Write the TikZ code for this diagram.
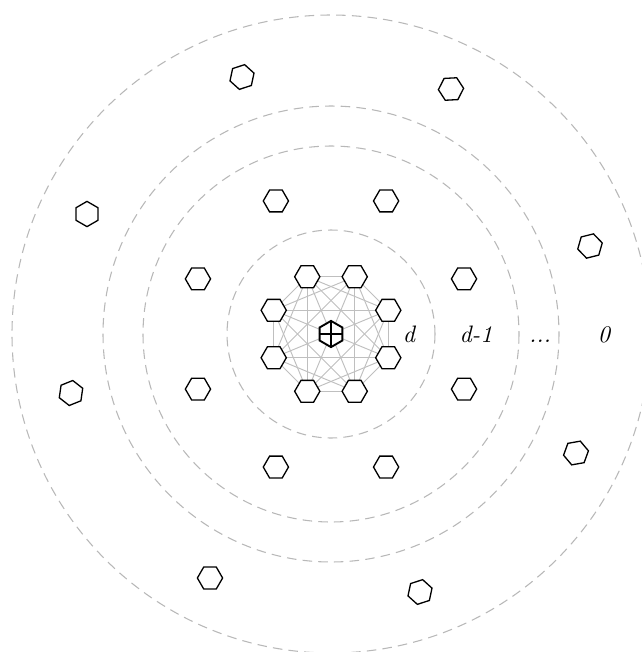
\documentclass[tikz,border=0pt]{standalone}
\usetikzlibrary{shapes.geometric}
\begin{document}
\begin{tikzpicture}[x=0.42pt,y=-0.42pt,
  hexa/.style={regular polygon, regular polygon sides=6, draw=black, fill=white,
    line width=0.55pt, inner sep=0pt, minimum size=10.6pt},
  ringline/.style={draw=black!28, dash pattern=on 4pt off 2.6pt, line width=0.45pt},
  link/.style={draw=black!25, line width=0.4pt},
  lab/.style={anchor=base, font=\itshape, inner sep=0pt}]
\useasboundingbox (0,0) rectangle (642,652);
\clip (0,0) rectangle (642,652);
\coordinate (c) at (331,334);
% dashed level circles
\draw[ringline] (c) circle[radius=104];
\draw[ringline] (c) circle[radius=188];
\draw[ringline] (c) circle[radius=228];
\draw[ringline] (c) circle[radius=319];
% inner clique positions
\foreach \i in {0,...,7}{
  \coordinate (p\i) at ([shift={(22.5+45*\i:62)}]c);
}
\foreach \i in {0,...,7}{
  \foreach \j in {0,...,7}{
    \ifnum\i<\j \draw[link] (p\i) -- (p\j);\fi
  }
}
\foreach \i in {0,...,7}{
  \node[hexa] (a\i) at (p\i) {};
}
% centre node
\node[hexa, regular polygon rotate=30, line width=0.8pt, minimum size=11pt] (c0) at (c) {};
\draw[line width=0.8pt] (c0.north) -- (c0.south) (c0.west) -- (c0.east);
% second ring
\foreach \i in {0,...,7}{
  \node[hexa] (b\i) at ([shift={(22.5+45*\i:144)}]c) {};
}
% outer ring
\node[hexa, rotate=18] (o1) at (242,77) {};
\node[hexa, rotate=3]  (o2) at (451,89) {};
\node[hexa, rotate=30] (o3) at (87,214) {};
\node[hexa, rotate=14] (o4) at (590,246) {};
\node[hexa, rotate=22] (o5) at (71,393) {};
\node[hexa, rotate=10] (o6) at (576,453) {};
\node[hexa, rotate=0]  (o7) at (210,578) {};
\node[hexa, rotate=18] (o8) at (420,592) {};
% level labels
\node[lab] (l1) at (409,342) {d};
\node[lab] (l2) at (476,342) {d-1};
\node[lab] (l3) at (540,342) {...};
\node[lab] (l4) at (604,342) {0};
\end{tikzpicture}
\end{document}
